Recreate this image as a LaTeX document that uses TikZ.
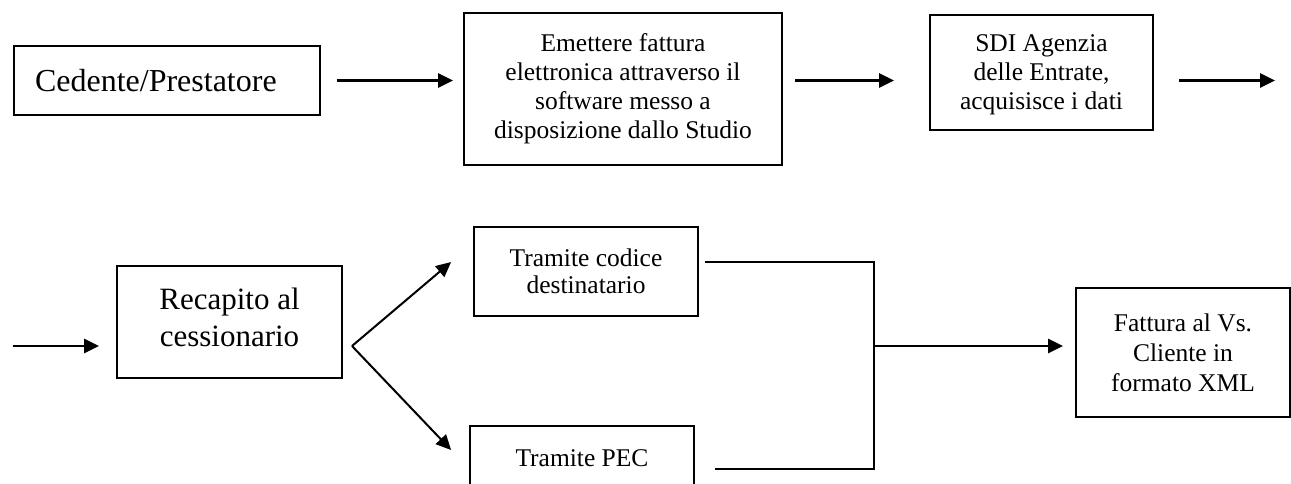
\documentclass[tikz,border=0pt]{standalone}
\usepackage{fontspec}
\setmainfont{Liberation Serif}
\usetikzlibrary{arrows.meta}

\begin{document}
\begin{tikzpicture}[x=1pt, y=-1pt,
  box/.style={draw, line width=1.8pt, inner sep=0pt, align=center, font=\fontsize{25.5}{29}\selectfont},
  bigbox/.style={box, font=\fontsize{31}{37}\selectfont},
  arr/.style={line width=2.6pt, -{Triangle[length=15pt, width=14pt]}},
  link/.style={line width=2pt}]
\useasboundingbox (0,0) rectangle (1291,484);
\fill[white] (0,0) rectangle (1291,484);
% first row
\node[bigbox, font=\fontsize{32}{37}\selectfont, text width=264pt, inner xsep=21pt, minimum height=69pt, align=left] (cedente) at (167,80.5) {Cedente/Prestatore};
\node[box, minimum width=318pt, minimum height=152pt] (emettere) at (623,89) {Emettere fattura\\ elettronica attraverso il\\ software messo a\\ disposizione dallo Studio};
\node[box, minimum width=223pt, minimum height=115pt, text depth=0pt] (sdi) at (1041.5,72.5) {SDI Agenzia\\ delle Entrate,\\ acquisisce i dati};
\coordinate (rowend) at (1275,80.5);
\draw[arr] ([xshift=16pt]cedente.east) -- ([xshift=-10pt]cedente.east -| emettere.west);
\draw[arr] ([xshift=12pt]emettere.east |- cedente.east) -- ([xshift=-35pt]sdi.west |- cedente.east);
\draw[arr] ([xshift=25pt]sdi.east |- rowend) -- (rowend);
% second row
\node[bigbox, minimum width=225pt, minimum height=112pt, text depth=10pt] (recapito) at (229.5,322) {Recapito al\\ cessionario};
\node[box, font=\fontsize{25.5}{27}\selectfont, minimum width=224pt, minimum height=89pt] (codice) at (586,271.5) {Tramite codice\\ destinatario};
\node[box, minimum width=224pt, minimum height=64pt] (pec) at (582,458) {Tramite PEC};
\node[box, font=\fontsize{25.5}{30}\selectfont, minimum width=214pt, minimum height=129pt] (fattura) at (1183,352.5) {Fattura al Vs.\\ Cliente in\\ formato XML};
\coordinate (rowstart) at (13,346);
\coordinate (fork) at (352,346);
\coordinate (mergetop) at (874,262);
\coordinate (mergebot) at (874,469);
\draw[arr] (rowstart) -- ([xshift=-17pt]rowstart -| recapito.west);
\draw[arr, line width=2pt] (fork) -- ([xshift=-22pt, yshift=9.5pt]codice.west);
\draw[arr, line width=2pt] (fork) -- ([xshift=-18pt, yshift=8pt]pec.west);
\draw[link] ([xshift=6pt]codice.east |- mergetop) -- (mergetop) -- (mergebot) -- ([xshift=20pt]pec.east |- mergebot);
\draw[arr] (mergetop |- fork) -- ([xshift=-12pt]fork -| fattura.west);
\end{tikzpicture}
\end{document}
